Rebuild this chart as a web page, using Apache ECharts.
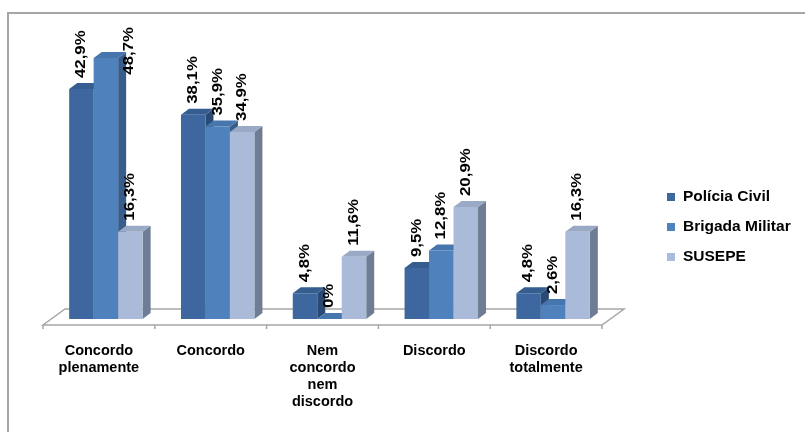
<!DOCTYPE html>
<html>
<head>
<meta charset="utf-8">
<script src="https://cdn.jsdelivr.net/npm/echarts@6/dist/echarts.min.js"></script>
<style>
  html, body { margin: 0; padding: 0; background: #fff; }
  #chart { width: 805px; height: 432px; }
</style>
</head>
<body>
<div id="chart"></div>
<script>
// Answer categories (x axis)
const categories = [
  'Concordo\nplenamente',
  'Concordo',
  'Nem\nconcordo\nnem\ndiscordo',
  'Discordo',
  'Discordo\ntotalmente'
];
// Percentages per institution
const seriesNames = ['Polícia Civil', 'Brigada Militar', 'SUSEPE'];
const policiaCivil = [42.9, 38.1, 4.8, 9.5, 4.8];
const brigadaMilitar = [48.7, 35.9, 0, 12.8, 2.6];
const susepe = [16.3, 34.9, 11.6, 20.9, 16.3];

const FONT = '"Liberation Sans", Arial, Helvetica, sans-serif';

// Face colours for each pseudo-3D column: front, top, side
const palettes = [
  { front: '#3d679e', top: '#365d90', side: '#2b4a73' },
  { front: '#4f81bd', top: '#4775ad', side: '#385d8a' },
  { front: '#a9bbd9', top: '#9aaac6', side: '#6f7d94' }
];

const DX = 8, DY = -6;          // column depth offset
const GROUP_FRAC = 0.657;       // share of a category band used by the 3 columns
const LABEL_GAP = 11;           // distance from column top to its value label
const LABEL_TOP_LIMIT = 27;     // labels may not rise above this line
const LABEL_FONT = 'bold 14px ' + FONT;
const LABEL_STRETCH = 1.2;      // labels are drawn slightly elongated along their reading direction

function fmt(v) {
  return v === 0 ? '0%' : v.toFixed(1).replace('.', ',') + '%';
}

const measureCtx = document.createElement('canvas').getContext('2d');
measureCtx.font = LABEL_FONT;

function makeColumnRenderer(sIdx) {
  const pal = palettes[sIdx];
  return function (params, api) {
    const cat = api.value(0);
    const val = api.value(1);
    const base = api.coord([cat, 0]);
    const top = api.coord([cat, val]);
    const band = api.size([1, 0])[0];
    const w = band * GROUP_FRAC / 3;
    const xl = base[0] - 1.5 * w + sIdx * w;
    const xr = xl + w;
    const yb = base[1];
    const yt = top[1];
    const children = [
      { type: 'polygon', shape: { points: [[xr, yt], [xr + DX, yt + DY], [xr + DX, yb + DY], [xr, yb]] },
        style: { fill: pal.side } },
      { type: 'rect', shape: { x: xl, y: yt, width: w, height: yb - yt },
        style: { fill: pal.front } },
      { type: 'polygon', shape: { points: [[xl, yt], [xl + DX, yt + DY], [xr + DX, yt + DY], [xr, yt]] },
        style: { fill: pal.top } }
    ];
    // value label, reading bottom-to-top above the column;
    // if it would leave the plot it is pushed down beside the column
    const text = fmt(val);
    const len = measureCtx.measureText(text).width * LABEL_STRETCH;
    let lx = xl + w / 2;
    let ly = yt - LABEL_GAP;
    if (ly - len < LABEL_TOP_LIMIT) {
      ly = LABEL_TOP_LIMIT + len;
      lx = xr + 11;
    }
    children.push({
      type: 'text',
      x: lx, y: ly,
      rotation: Math.PI / 2,
      scaleX: LABEL_STRETCH,
      style: {
        text: text,
        x: 0, y: 0,
        fill: '#000',
        font: LABEL_FONT,
        align: 'left',
        verticalAlign: 'middle'
      },
      z2: 10
    });
    return { type: 'group', children: children };
  };
}

// Floor plane under the columns with category tick marks on its front edge
function renderFloor(params, api) {
  const c = api.coord([0, 0]);
  const band = api.size([1, 0])[0];
  const x0 = c[0] - band / 2;
  const x1 = x0 + band * categories.length;
  const y = c[1];
  const fx = -7, fy = 6, bx = 15, by = -10;
  const children = [{
    type: 'polygon',
    shape: { points: [[x0 + fx, y + fy], [x0 + bx, y + by], [x1 + bx, y + by], [x1 + fx, y + fy]] },
    style: { fill: '#ffffff', stroke: '#a6a6a6', lineWidth: 1.5 }
  }];
  for (let k = 0; k <= categories.length; k++) {
    const tx = x0 + fx + k * band;
    children.push({
      type: 'line',
      shape: { x1: tx, y1: y + fy, x2: tx, y2: y + fy + 4 },
      style: { stroke: '#a6a6a6', lineWidth: 1.5 }
    });
  }
  return { type: 'group', children: children };
}

function toData(arr) {
  return arr.map((v, i) => [i, v]);
}

const chart = echarts.init(document.getElementById('chart'), null, { renderer: 'canvas' });

chart.setOption({
  animation: false,
  backgroundColor: '#ffffff',
  graphic: [{
    type: 'rect',
    shape: { x: 8, y: 13, width: 900, height: 500 },
    style: { fill: 'none', stroke: '#a6a6a6', lineWidth: 2 },
    silent: true
  }],
  grid: { left: 50, right: 196, top: 51, bottom: 113 },
  xAxis: {
    type: 'category',
    data: categories,
    axisLine: { show: false },
    axisTick: { show: false },
    axisLabel: {
      interval: 0,
      margin: 23,
      color: '#000',
      fontFamily: FONT,
      fontWeight: 'bold',
      fontSize: 14.5,
      lineHeight: 17,
      padding: [0, 14, 0, 0]
    }
  },
  yAxis: { type: 'value', min: 0, max: 50, show: false },
  legend: {
    data: seriesNames,
    orient: 'vertical',
    left: 667,
    top: 189,
    padding: 0,
    itemWidth: 8,
    itemHeight: 8,
    itemGap: 14,
    icon: 'rect',
    textStyle: {
      color: '#000',
      fontFamily: FONT,
      fontWeight: 'bold',
      fontSize: 15.5,
      lineHeight: 16,
      padding: [0, 0, 0, 3]
    }
  },
  series: [
    { type: 'custom', name: '_floor', data: [[0, 0]], renderItem: renderFloor, silent: true, z: 1, encode: { x: 0, y: 1 } },
    { type: 'custom', name: seriesNames[0], data: toData(policiaCivil), renderItem: makeColumnRenderer(0), z: 2,
      itemStyle: { color: palettes[0].front }, encode: { x: 0, y: 1 } },
    { type: 'custom', name: seriesNames[1], data: toData(brigadaMilitar), renderItem: makeColumnRenderer(1), z: 2,
      itemStyle: { color: palettes[1].front }, encode: { x: 0, y: 1 } },
    { type: 'custom', name: seriesNames[2], data: toData(susepe), renderItem: makeColumnRenderer(2), z: 2,
      itemStyle: { color: palettes[2].front }, encode: { x: 0, y: 1 } }
  ]
});
</script>
</body>
</html>
